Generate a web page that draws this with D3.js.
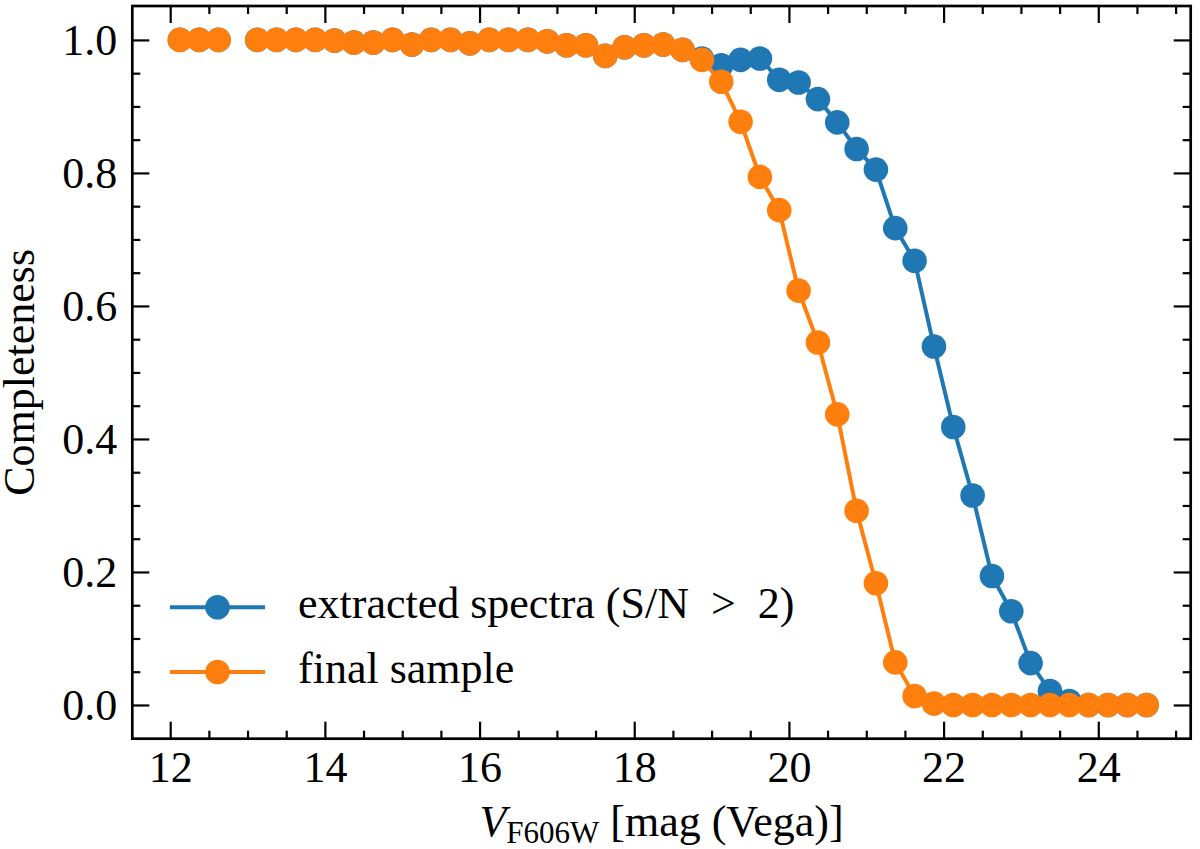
<!DOCTYPE html>
<html lang="en">
<head>
    <meta charset="utf-8">
    <title>Completeness</title>
    <script src="https://d3js.org/d3.v7.min.js"></script>
    <style>
        html, body {
            margin: 0;
            padding: 0;
            background: #fff;
        }
        text {
            font-family: "Liberation Serif", "Times New Roman", serif;
            font-size: 44px;
            fill: #000;
        }
        .axis path {
            display: none;
        }
        .axis line {
            stroke: #000;
            stroke-width: 2.2px;
        }
        path.line {
            fill: none;
            stroke-width: 4px;
        }
    </style>
</head>
<body>
<script type="text/javascript">

    // magnitude bins (12.875 has no stars)
    var mag = [12.125, 12.375, 12.625, 12.875, 13.125, 13.375, 13.625, 13.875,
        14.125, 14.375, 14.625, 14.875, 15.125, 15.375, 15.625, 15.875,
        16.125, 16.375, 16.625, 16.875, 17.125, 17.375, 17.625, 17.875,
        18.125, 18.375, 18.625, 18.875, 19.125, 19.375, 19.625, 19.875,
        20.125, 20.375, 20.625, 20.875, 21.125, 21.375, 21.625, 21.875,
        22.125, 22.375, 22.625, 22.875, 23.125, 23.375, 23.625, 23.875,
        24.125, 24.375, 24.625];

    var extracted = [1.0, 1.0, 1.0, null, 1.0, 1.0, 1.0, 1.0,
        0.999, 0.996, 0.996, 1.0, 0.993, 1.0, 1.0, 0.995,
        1.0, 1.0, 1.0, 0.998, 0.992, 0.992, 0.976, 0.989,
        0.992, 0.993, 0.985, 0.972, 0.962, 0.970, 0.972, 0.940,
        0.936, 0.911, 0.876, 0.836, 0.805, 0.717, 0.668, 0.539,
        0.418, 0.315, 0.194, 0.141, 0.063, 0.021, 0.006, 0.0,
        0.0, 0.0, 0.0];

    var finalSample = [1.0, 1.0, 1.0, null, 1.0, 1.0, 1.0, 1.0,
        0.999, 0.996, 0.996, 1.0, 0.993, 1.0, 1.0, 0.995,
        1.0, 1.0, 1.0, 0.998, 0.992, 0.992, 0.976, 0.989,
        0.992, 0.993, 0.985, 0.970, 0.937, 0.877, 0.794, 0.744,
        0.623, 0.545, 0.437, 0.292, 0.183, 0.064, 0.0135, 0.002,
        0.0, 0.0, 0.0, 0.0, 0.0, 0.0, 0.0, 0.0,
        0.0, 0.0, 0.0];

    var seriesNames = ["extracted spectra (S/N\u2002>\u20022)", "final sample"];
    var seriesColors = ["#1f77b4", "#ff7f0e"];

    var xTicks = [12, 14, 16, 18, 20, 22, 24];
    var yTicks = [0.0, 0.2, 0.4, 0.6, 0.8, 1.0];

    //Width and height
    var w = 1200;
    var h = 849;
    var pLeft = 132.3, pRight = 1190.7, pTop = 6, pBottom = 738.7;

    var xScale = d3.scaleLinear()
        .domain([11.51, 25.195])
        .range([pLeft, pRight]);

    var yScale = d3.scaleLinear()
        .domain([-0.0507, 1.051])
        .range([pBottom, pTop]);

    var xMinor = d3.range(11.5, 25.2, 0.5).filter(function(v) { return v % 2 !== 0 && v > 11.51; });
    var yMinor = d3.range(0, 1.0001, 0.05).filter(function(v) {
        return Math.abs(v * 5 - Math.round(v * 5)) > 1e-6;
    });

    var svg = d3.select("body")
        .append("svg")
        .attr("width", w)
        .attr("height", h);

    svg.append("rect")
        .attr("width", w)
        .attr("height", h)
        .attr("fill", "#fff");

    //Create axes (ticks pointing inward on all four sides)
    function addAxis(axis, tx, ty) {
        return svg.append("g")
            .attr("class", "axis")
            .attr("transform", "translate(" + tx + "," + ty + ")")
            .call(axis);
    }

    addAxis(d3.axisBottom(xScale).tickValues(xTicks).tickSize(-17).tickPadding(12)
        .tickFormat(d3.format("d")), 0, pBottom);
    addAxis(d3.axisBottom(xScale).tickValues(xMinor).tickSize(-8).tickFormat(""), 0, pBottom);
    addAxis(d3.axisTop(xScale).tickValues(xTicks).tickSize(-17).tickFormat(""), 0, pTop);
    addAxis(d3.axisTop(xScale).tickValues(xMinor).tickSize(-8).tickFormat(""), 0, pTop);

    addAxis(d3.axisLeft(yScale).tickValues(yTicks).tickSize(-17).tickPadding(15)
        .tickFormat(d3.format(".1f")), pLeft, 0);
    addAxis(d3.axisLeft(yScale).tickValues(yMinor).tickSize(-8).tickFormat(""), pLeft, 0);
    addAxis(d3.axisRight(yScale).tickValues(yTicks).tickSize(-17).tickFormat(""), pRight, 0);
    addAxis(d3.axisRight(yScale).tickValues(yMinor).tickSize(-8).tickFormat(""), pRight, 0);

    svg.selectAll(".axis").attr("font-family", null).attr("font-size", null);

    //Create lines and markers
    var line = d3.line()
        .defined(function(d) { return d[1] !== null; })
        .x(function(d) { return xScale(d[0]); })
        .y(function(d) { return yScale(d[1]); });

    [extracted, finalSample].forEach(function(vals, i) {
        var data = mag.map(function(m, k) { return [m, vals[k]]; });
        svg.append("path")
            .datum(data)
            .attr("class", "line")
            .attr("stroke", seriesColors[i])
            .attr("d", line);
        svg.append("g")
            .selectAll("circle")
            .data(data.filter(function(d) { return d[1] !== null; }))
            .enter()
            .append("circle")
            .attr("cx", function(d) { return xScale(d[0]); })
            .attr("cy", function(d) { return yScale(d[1]); })
            .attr("r", 12.3)
            .attr("fill", seriesColors[i]);
    });

    //Frame
    svg.append("rect")
        .attr("x", pLeft)
        .attr("y", pTop)
        .attr("width", pRight - pLeft)
        .attr("height", pBottom - pTop)
        .attr("fill", "none")
        .attr("stroke", "#000")
        .attr("stroke-width", 2.7);

    //Legend
    var legendY = [607.3, 672];
    seriesNames.forEach(function(name, i) {
        var g = svg.append("g").attr("transform", "translate(0," + legendY[i] + ")");
        g.append("line")
            .attr("x1", 170).attr("x2", 265)
            .attr("stroke", seriesColors[i])
            .attr("stroke-width", 4);
        g.append("circle")
            .attr("cx", 217.5)
            .attr("r", 12.3)
            .attr("fill", seriesColors[i]);
        g.append("text")
            .attr("x", 298)
            .attr("y", 11)
            .text(name);
    });

    //Axis labels
    svg.append("text")
        .attr("transform", "translate(34," + ((pTop + pBottom) / 2) + ") rotate(-90)")
        .attr("text-anchor", "middle")
        .text("Completeness");

    var xl = svg.append("text")
        .attr("x", (pLeft + pRight) / 2)
        .attr("y", 836)
        .attr("text-anchor", "middle");
    xl.append("tspan").attr("font-style", "italic").text("V");
    xl.append("tspan").attr("font-size", "31px").attr("dy", 7).text("F606W");
    xl.append("tspan").attr("dy", -7).text(" [mag (Vega)]");

</script>
</body>
</html>
